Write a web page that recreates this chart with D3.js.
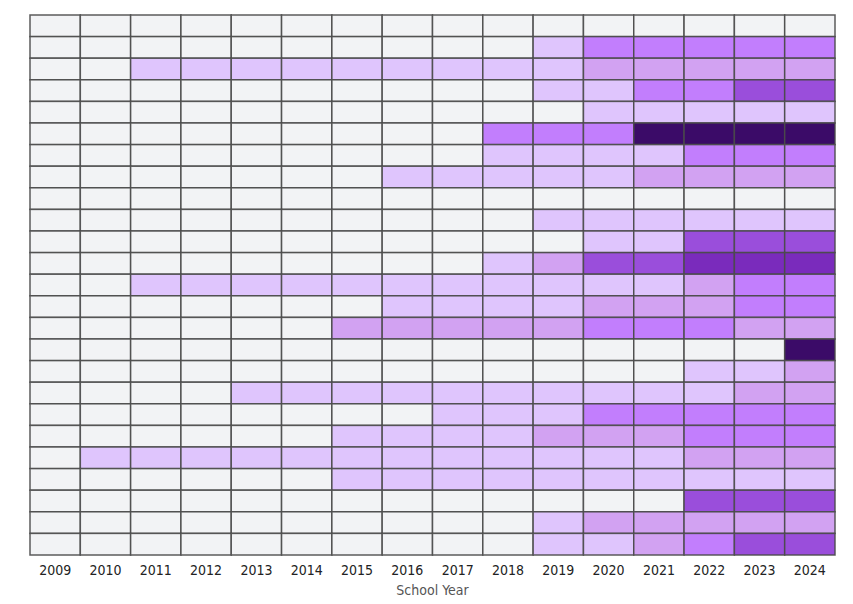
<!DOCTYPE html>
<html>
<head>
<meta charset="utf-8">
<script src="https://cdn.jsdelivr.net/npm/d3@7"></script>
<style>
  html, body { margin: 0; padding: 0; background: #ffffff; }
  svg { display: block; font-family: "Liberation Sans Narrow", "DejaVu Sans Condensed", "Roboto", sans-serif; }
</style>
</head>
<body>
<div id="chart"></div>
<script>
const years = ["2009","2010","2011","2012","2013","2014","2015","2016","2017","2018","2019","2020","2021","2022","2023","2024"];
const rowIds = d3.range(25).map(i => "r" + i);
const levelColors = ["#f2f3f5", "#dfc5fd", "#d2a2f2", "#c27efd", "#9a4edb", "#7a2bbc", "#3b0b68"];
const xTitle = "School Year";

const levels = [
  [0,0,0,0,0,0,0,0,0,0,0,0,0,0,0,0],
  [0,0,0,0,0,0,0,0,0,0,1,3,3,3,3,3],
  [0,0,1,1,1,1,1,1,1,1,1,2,2,2,2,2],
  [0,0,0,0,0,0,0,0,0,0,1,1,3,3,4,4],
  [0,0,0,0,0,0,0,0,0,0,0,1,1,1,1,1],
  [0,0,0,0,0,0,0,0,0,3,3,3,6,6,6,6],
  [0,0,0,0,0,0,0,0,0,1,1,1,1,3,3,3],
  [0,0,0,0,0,0,0,1,1,1,1,1,2,2,2,2],
  [0,0,0,0,0,0,0,0,0,0,0,0,0,0,0,0],
  [0,0,0,0,0,0,0,0,0,0,1,1,1,1,1,1],
  [0,0,0,0,0,0,0,0,0,0,0,1,1,4,4,4],
  [0,0,0,0,0,0,0,0,0,1,2,4,4,5,5,5],
  [0,0,1,1,1,1,1,1,1,1,1,1,1,2,3,3],
  [0,0,0,0,0,0,0,1,1,1,1,2,2,2,3,3],
  [0,0,0,0,0,0,2,2,2,2,2,3,3,3,2,2],
  [0,0,0,0,0,0,0,0,0,0,0,0,0,0,0,6],
  [0,0,0,0,0,0,0,0,0,0,0,0,0,1,1,2],
  [0,0,0,0,1,1,1,1,1,1,1,1,1,1,2,2],
  [0,0,0,0,0,0,0,0,1,1,1,3,3,3,3,3],
  [0,0,0,0,0,0,1,1,1,1,2,2,2,3,3,3],
  [0,1,1,1,1,1,1,1,1,1,1,1,1,2,2,2],
  [0,0,0,0,0,0,1,1,1,1,1,1,1,1,1,1],
  [0,0,0,0,0,0,0,0,0,0,0,0,0,4,4,4],
  [0,0,0,0,0,0,0,0,0,0,1,2,2,2,2,2],
  [0,0,0,0,0,0,0,0,0,0,1,1,2,3,4,4]
];

const W = 853, H = 604;
const margin = {left: 30, right: 18, top: 15, bottom: 49};

const svg = d3.select("#chart").append("svg")
  .attr("width", W).attr("height", H);

const x = d3.scaleBand().domain(years).range([margin.left, W - margin.right]).padding(0);
const y = d3.scaleBand().domain(rowIds).range([margin.top, H - margin.bottom]).padding(0);
const color = d3.scaleOrdinal().domain(d3.range(levelColors.length)).range(levelColors);

const cells = [];
levels.forEach((row, i) => row.forEach((v, j) => cells.push({row: rowIds[i], year: years[j], v})));

svg.append("g").selectAll("rect").data(cells).join("rect")
  .attr("x", d => x(d.year))
  .attr("y", d => y(d.row))
  .attr("width", x.bandwidth())
  .attr("height", y.bandwidth())
  .attr("fill", d => color(d.v))
  .attr("stroke", "#4a4a4a")
  .attr("stroke-opacity", 0.9)
  .attr("stroke-width", 1.5);

const xAxis = d3.axisBottom(x).tickSize(0).tickPadding(10);
const gx = svg.append("g")
  .attr("transform", `translate(0,${H - margin.bottom})`)
  .call(xAxis);
gx.select(".domain").remove();
gx.selectAll("text").attr("font-size", 14).attr("fill", "#222")
  .attr("font-family", "'Liberation Sans Narrow', 'DejaVu Sans Condensed', sans-serif");

svg.append("text")
  .attr("x", (margin.left + W - margin.right) / 2)
  .attr("y", 595)
  .attr("text-anchor", "middle")
  .attr("font-size", 14)
  .attr("fill", "#555")
  .text(xTitle);
</script>
</body>
</html>
